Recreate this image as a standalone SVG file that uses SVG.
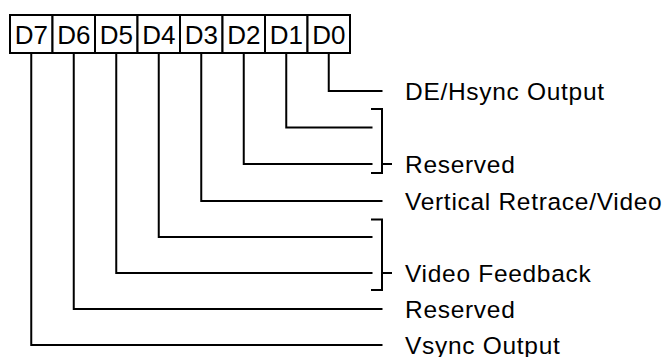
<svg xmlns="http://www.w3.org/2000/svg" width="669" height="357" viewBox="0 0 669 357">
<style>
  .cell { fill: #fff; stroke: #000; stroke-width: 2; }
  .ct { font-family: "Liberation Sans", Arial, sans-serif; font-size: 26px; fill: #000; text-anchor: middle; }
  .lbl { font-family: "Liberation Sans", Arial, sans-serif; font-size: 24.5px; letter-spacing: 0.7px; fill: #000; }
  .wire { fill: none; stroke: #000; stroke-width: 2; stroke-linejoin: miter; stroke-linecap: square; }
</style>
<rect width="669" height="357" fill="#fff"/>
<g id="register">
  <g id="bit-D7"><rect class="cell" x="10" y="15" width="42.5" height="38"/><text class="ct" x="31.25" y="43.5">D7</text></g>
  <g id="bit-D6"><rect class="cell" x="52.5" y="15" width="42.5" height="38"/><text class="ct" x="73.75" y="43.5">D6</text></g>
  <g id="bit-D5"><rect class="cell" x="95" y="15" width="42.5" height="38"/><text class="ct" x="116.25" y="43.5">D5</text></g>
  <g id="bit-D4"><rect class="cell" x="137.5" y="15" width="42.5" height="38"/><text class="ct" x="158.75" y="43.5">D4</text></g>
  <g id="bit-D3"><rect class="cell" x="180" y="15" width="42.5" height="38"/><text class="ct" x="201.25" y="43.5">D3</text></g>
  <g id="bit-D2"><rect class="cell" x="222.5" y="15" width="42.5" height="38"/><text class="ct" x="243.75" y="43.5">D2</text></g>
  <g id="bit-D1"><rect class="cell" x="265" y="15" width="42.5" height="38"/><text class="ct" x="286.25" y="43.5">D1</text></g>
  <g id="bit-D0"><rect class="cell" x="307.5" y="15" width="42.5" height="38"/><text class="ct" x="328.75" y="43.5">D0</text></g>
</g>
<g id="connectors">
  <polyline class="wire" points="328.75,54 328.75,91 381.5,91"/>
  <polyline class="wire" points="286.25,54 286.25,127.5 371.5,127.5"/>
  <polyline class="wire" points="243.75,54 243.75,164 371.5,164"/>
  <polyline class="wire" points="201.25,54 201.25,201 381.5,201"/>
  <polyline class="wire" points="158.75,54 158.75,237 371.5,237"/>
  <polyline class="wire" points="116.25,54 116.25,273 371.5,273"/>
  <polyline class="wire" points="73.75,54 73.75,309 381.5,309"/>
  <polyline class="wire" points="31.25,54 31.25,345 381.5,345"/>
  <g id="bracket-reserved">
    <polyline class="wire" points="372,109 382,109 382,173 372,173"/>
    <line class="wire" x1="382" y1="164" x2="391" y2="164"/>
  </g>
  <g id="bracket-video-feedback">
    <polyline class="wire" points="372,219.5 382,219.5 382,290 372,290"/>
    <line class="wire" x1="382" y1="273" x2="391" y2="273"/>
  </g>
</g>
<g id="labels">
  <g id="label-D0"><text class="lbl" x="405" y="99.5">DE/Hsync Output</text></g>
  <g id="label-D1-D2"><text class="lbl" x="405" y="172.5">Reserved</text></g>
  <g id="label-D3"><text class="lbl" x="405" y="209.5">Vertical Retrace/Video</text></g>
  <g id="label-D4-D5"><text class="lbl" x="405" y="281.5">Video Feedback</text></g>
  <g id="label-D6"><text class="lbl" x="405" y="317.5">Reserved</text></g>
  <g id="label-D7"><text class="lbl" x="405" y="353.5">Vsync Output</text></g>
</g>
</svg>
